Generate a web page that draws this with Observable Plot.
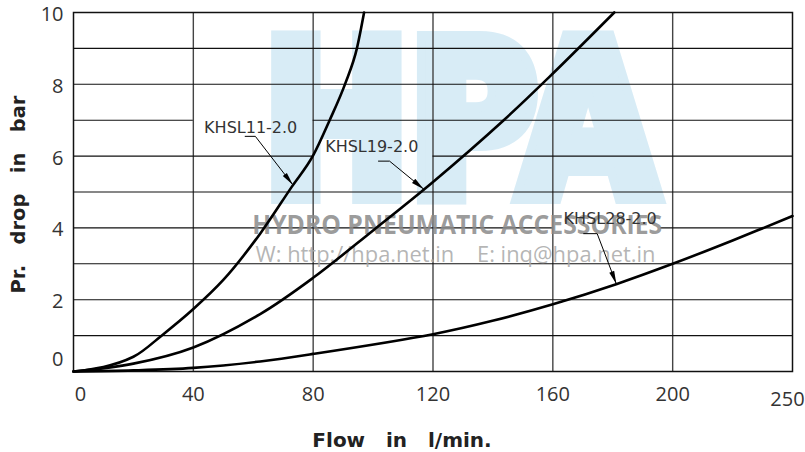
<!DOCTYPE html>
<html><head><meta charset="utf-8">
<script src="https://cdn.jsdelivr.net/npm/d3@7"></script>
<script src="https://cdn.jsdelivr.net/npm/@observablehq/plot@0.6"></script>
<style>body{margin:0;background:#fff} #chart{width:805px;height:452px}</style>
</head><body><div id="chart"></div>
<script>
// ---- data ----
const seriesNames = ["KHSL11-2.0", "KHSL19-2.0", "KHSL28-2.0"];
const flowKHSL11 = [0, 20, 30, 40, 50, 62.3, 72.9, 80, 85.5, 90.7, 94.6, 97];
const dropKHSL11 = [0, 0.41, 1.04, 1.74, 2.55, 3.84, 5.15, 6.02, 7.0, 8.02, 9.0, 10];
const flowKHSL19 = [0, 20, 40, 62.3, 80, 100, 120, 143.6, 160, 180.5];
const dropKHSL19 = [0, 0.22, 0.67, 1.60, 2.61, 3.93, 5.28, 7.0, 8.3, 10];
const flowKHSL28 = [0, 20, 40, 62.3, 80, 120, 140.2, 160.3, 181.4, 200, 220, 240];
const dropKHSL28 = [0, 0.03, 0.1, 0.28, 0.49, 1.04, 1.42, 1.88, 2.44, 3.0, 3.65, 4.33];

const xTickValues = [0, 40, 80, 120, 160, 200, 240];
const xTickLabels = ["0", "40", "80", "120", "160", "200", "250"];
const yTickValues = [0, 2, 4, 6, 8, 10];
const yTickLabels = ["0", "2", "4", "6", "8", "10"];
const vGridValues = [40, 80, 120, 160, 200];
const hGridValues = [1, 2, 3, 4, 5, 6, 7, 8, 9];
const hGridGapY = [7, 6, 4];
const hGridGapFrom = [40, 80, 160];
const hGridGapTo = [80, 120, 196];

const labelX = [43.6, 84.0, 163.6];
const labelY = [6.8, 6.27, 4.26];
const leaderX = [[57.3, 60.7, 73.2], [101.8, 105.5, 116.9], [170.3, 174.8, 181.2]];
const leaderY = [[6.55, 6.55, 5.2], [5.86, 5.86, 5.08], [3.84, 3.84, 2.44]];

const xTitle = "Flow\u00a0\u00a0\u00a0in\u00a0\u00a0\u00a0l/min.";
const yTitle = "Pr.\u00a0\u00a0\u00a0drop\u00a0\u00a0\u00a0in\u00a0\u00a0\u00a0bar";
const wmLogo = "HPA";
const wmName = "HYDRO PNEUMATIC ACCESSORIES";
const wmWeb = "W: http://hpa.net.in\u00a0\u00a0\u00a0\u00a0E: inq@hpa.net.in";

// ---- tables ----
const flows = [flowKHSL11, flowKHSL19, flowKHSL28];
const drops = [dropKHSL11, dropKHSL19, dropKHSL28];
const curves = seriesNames.flatMap((s, i) => flows[i].map((f, j) => ({series: s, flow: f, drop: drops[i][j]})));
const leaders = seriesNames.flatMap((s, i) => leaderX[i].map((x, j) => ({series: s, x, y: leaderY[i][j]})));
const labels = seriesNames.map((s, i) => ({text: s, x: labelX[i], y: labelY[i]}));
const xTicks = xTickValues.map((v, i) => ({v, label: xTickLabels[i]}));
const yTicks = yTickValues.map((v, i) => ({v, label: yTickLabels[i]}));
const hSegments = [];
for (const y of hGridValues) {
  const g = hGridGapY.indexOf(y);
  if (g < 0) hSegments.push({y, x1: 0, x2: 240});
  else {
    hSegments.push({y, x1: 0, x2: hGridGapFrom[g]});
    hSegments.push({y, x1: hGridGapTo[g], x2: 240});
  }
}

function arrowHead(color) {
  const m = d3.create("svg:marker")
    .attr("viewBox", "-14 -3 14 6")
    .attr("markerWidth", 14).attr("markerHeight", 6)
    .attr("markerUnits", "userSpaceOnUse")
    .attr("orient", "auto").attr("refX", 0).attr("refY", 0);
  m.append("path").attr("d", "M0,0L-13,-2.6L-13,2.6Z").attr("fill", color).attr("stroke", "none");
  return m.node();
}

const tickStyle = {lineAnchor: "middle", fontSize: 20, fill: "#333"};
const first = (arr) => [arr[0]];
const middle = (arr) => arr.slice(1, -1);
const last = (arr) => [arr[arr.length - 1]];
const curveStyle = {x: "flow", y: "drop", z: "series", stroke: "#000", strokeWidth: 2.6};

const chart = Plot.plot({
  width: 805, height: 452,
  marginLeft: 73, marginRight: 13, marginTop: 12, marginBottom: 81,
  style: {fontFamily: "Open Sans", background: "#fff", overflow: "visible"},
  x: {domain: [0, 240], axis: null},
  y: {domain: [0, 10], axis: null},
  marks: [
    Plot.text([wmLogo], {frameAnchor: "top-left", dx: 190, dy: 181, lineAnchor: "bottom", textAnchor: "start",
      fontSize: 210, fontWeight: "bold", fontFamily: "DejaVu Sans", fill: "#d8ecf6",
      stroke: "#d8ecf6", strokeWidth: 20, strokeLinejoin: "miter"}),
    Plot.ruleX(vGridValues, {stroke: "#444", strokeWidth: 1.4}),
    Plot.ruleY(hSegments, {y: "y", x1: "x1", x2: "x2", stroke: "#111", strokeWidth: 1.1}),
    Plot.frame({stroke: "#111", strokeWidth: 1.5}),
    Plot.text([wmName], {frameAnchor: "top-left", dx: 178.7, dy: 221.3, lineAnchor: "bottom", textAnchor: "start",
      fontSize: 27, fontWeight: "bold", fill: "#8a8a8a", fillOpacity: 0.85}),
    Plot.text([wmWeb], {frameAnchor: "top-left", dx: 182, dy: 249.7, lineAnchor: "bottom", textAnchor: "start",
      fontSize: 21, fill: "#a8a8a8", fillOpacity: 0.85}),
    Plot.line(curves.filter(d => d.series === seriesNames[0]), {...curveStyle, curve: "monotone-x"}),
    Plot.line(curves.filter(d => d.series !== seriesNames[0]), {...curveStyle, curve: "catmull-rom"}),
    Plot.line(leaders, {x: "x", y: "y", z: "series", stroke: "#000", strokeWidth: 1, markerEnd: arrowHead}),
    Plot.text(labels, {x: "x", y: "y", text: "text", textAnchor: "start", lineAnchor: "middle",
      fontSize: 16, fontFamily: "DejaVu Sans", fill: "#333"}),
    Plot.text(first(xTicks), {x: "v", text: "label", frameAnchor: "bottom", textAnchor: "middle", dx: 7, dy: 23, ...tickStyle}),
    Plot.text(middle(xTicks), {x: "v", text: "label", frameAnchor: "bottom", textAnchor: "middle", dy: 23, ...tickStyle}),
    Plot.text(last(xTicks), {x: "v", text: "label", frameAnchor: "bottom", textAnchor: "middle", dx: -5, dy: 28, ...tickStyle}),
    Plot.text(first(yTicks), {y: "v", text: "label", frameAnchor: "left", textAnchor: "end", dx: -10, dy: -12, ...tickStyle}),
    Plot.text(yTicks.slice(1), {y: "v", text: "label", frameAnchor: "left", textAnchor: "end", dx: -10, dy: 2, ...tickStyle}),
    Plot.text([xTitle], {frameAnchor: "bottom", textAnchor: "middle", dx: -31, dy: 69, lineAnchor: "middle",
      fontSize: 20, fontWeight: "bold", fontFamily: "DejaVu Sans", fill: "#222"}),
    Plot.text([yTitle], {frameAnchor: "left", textAnchor: "middle", dx: -55, dy: 2.5, rotate: -90, lineAnchor: "middle",
      fontSize: 19.5, fontWeight: "bold", fontFamily: "DejaVu Sans", fill: "#222"})
  ]
});

d3.select(chart).selectAll("text").each(function () {
  const t = this.textContent;
  if (t === wmLogo) { this.setAttribute("textLength", 392); this.setAttribute("lengthAdjust", "spacingAndGlyphs"); }
  if (t === wmName) { this.setAttribute("textLength", 410); this.setAttribute("lengthAdjust", "spacingAndGlyphs"); }
  if (t === wmWeb) { this.setAttribute("textLength", 400); this.setAttribute("lengthAdjust", "spacingAndGlyphs"); }
});
document.getElementById("chart").append(chart);
</script>
</body></html>
